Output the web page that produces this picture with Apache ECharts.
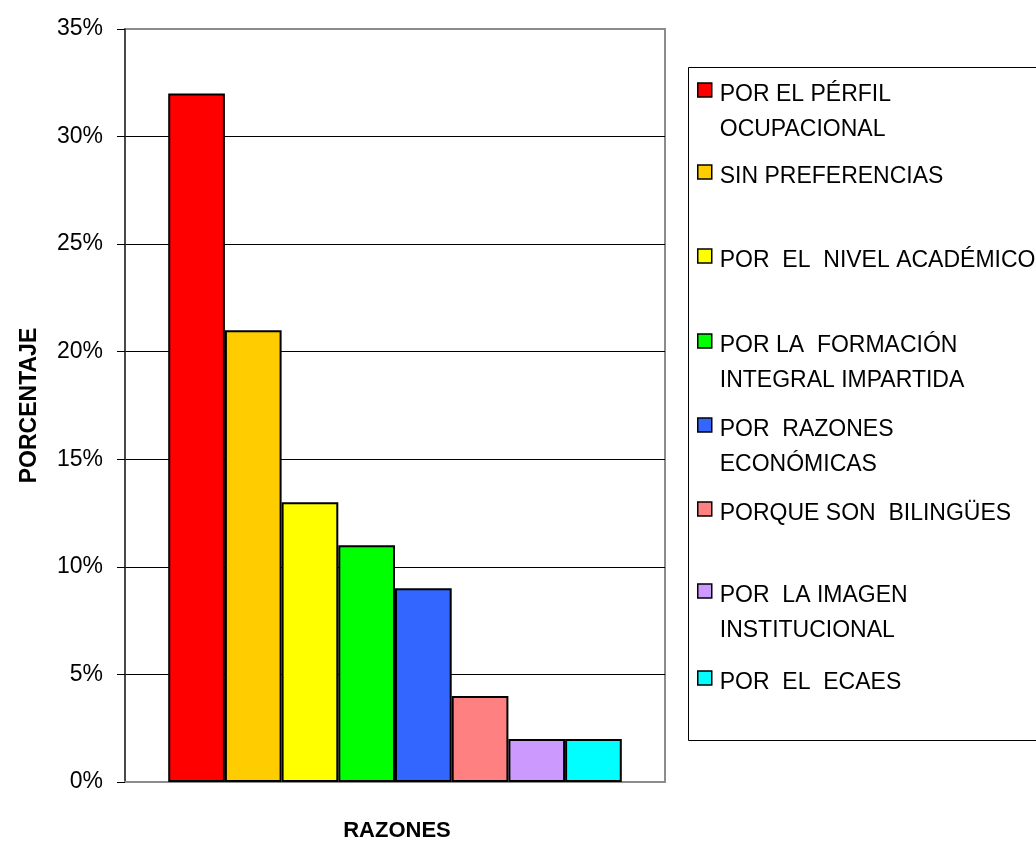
<!DOCTYPE html>
<html>
<head>
<meta charset="utf-8">
<script src="https://cdn.jsdelivr.net/npm/echarts@6/dist/echarts.min.js"></script>
<style>html,body{margin:0;padding:0;background:#fff}#c{width:1036px;height:844px}</style>
</head>
<body>
<div id="c"></div>
<script>
// ---- data ----
const categories = ['RAZONES'];
const seriesNames = [
  'POR EL PÉRFIL\nOCUPACIONAL',
  'SIN PREFERENCIAS',
  'POR  EL  NIVEL ACADÉMICO',
  'POR LA  FORMACIÓN\nINTEGRAL IMPARTIDA',
  'POR  RAZONES\nECONÓMICAS',
  'PORQUE SON  BILINGÜES',
  'POR  LA IMAGEN\nINSTITUCIONAL',
  'POR  EL  ECAES'
];
const seriesValues = [32, 21, 13, 11, 9, 4, 2, 2];
const seriesColors = ['#FF0000', '#FFCC00', '#FFFF00', '#00FF00', '#3366FF', '#FF8080', '#CC99FF', '#00FFFF'];
const yMin = 0, yMax = 35, yStep = 5;
const yTitle = 'PORCENTAJE';
const xTitle = 'RAZONES';

// ---- layout helpers (positions of legend entries) ----
const FONT = "'Liberation Sans', Arial, sans-serif";
const legendIconCenters = [90, 172, 256, 341, 425, 509, 591, 678];
const LH = 35;

const legends = seriesNames.map((name, i) => {
  const n = name.split('\n').length;
  const padTop = LH * n - 25;
  const H = padTop + LH * n;
  return {
    data: [name],
    orient: 'vertical',
    left: 697,
    top: legendIconCenters[i] - H / 2,
    padding: 0,
    itemWidth: 14,
    itemHeight: 14,
    icon: 'rect',
    selectedMode: false,
    itemStyle: { borderColor: '#000', borderWidth: 1.5 },
    formatter: nm => nm.split('\n').map(l => '{t|' + l + '}').join('\n'),
    textStyle: {
      fontSize: 23, fontFamily: FONT, color: '#000',
      lineHeight: LH, padding: [padTop, 0, 0, 3],
      rich: { t: { fontSize: 23, fontFamily: FONT, color: '#000', lineHeight: LH } }
    }
  };
});

const splitColors = [];
for (let v = yMin; v <= yMax; v += yStep) {
  splitColors.push(v === yMin || v === yMax ? '#8c8c8c' : '#000000');
}

const chart = echarts.init(document.getElementById('c'), null, { renderer: 'canvas' });
chart.setOption({
  animation: false,
  backgroundColor: '#ffffff',
  grid: {
    left: 125, right: 371, top: 29, bottom: 62,
    outerBoundsMode: 'none',
    containLabel: false,
    show: true, borderColor: '#8c8c8c', borderWidth: 2, backgroundColor: 'transparent'
  },
  legend: legends,
  graphic: [{
    type: 'rect',
    shape: { x: 688.5, y: 67.5, width: 400, height: 673 },
    style: { fill: 'none', stroke: '#000', lineWidth: 1 },
    z: -1
  }],
  xAxis: {
    type: 'category',
    data: categories,
    axisLabel: { show: false },
    axisTick: { show: false },
    axisLine: { show: true, lineStyle: { color: '#8c8c8c', width: 2 } },
    splitLine: { show: false },
    name: xTitle,
    nameLocation: 'middle',
    nameGap: 38,
    nameTextStyle: { fontSize: 22, fontWeight: 'bold', fontFamily: FONT, color: '#000', padding: [0, 0, 0, 4] }
  },
  yAxis: {
    type: 'value',
    min: yMin, max: yMax, interval: yStep,
    axisLabel: { formatter: '{value}%', fontSize: 23, fontFamily: FONT, color: '#000', margin: 22 },
    axisTick: { show: true, length: 8, lineStyle: { color: '#000', width: 1 } },
    axisLine: { show: true, lineStyle: { color: '#333', width: 1.5 } },
    splitLine: { show: true, lineStyle: { color: splitColors, width: 1 } },
    name: yTitle,
    nameLocation: 'middle',
    nameRotate: 90,
    nameGap: 84,
    nameTextStyle: { fontSize: 23, fontWeight: 'bold', fontFamily: FONT, color: '#000' }
  },
  series: seriesNames.map((name, i) => ({
    type: 'bar',
    name: name,
    data: [seriesValues[i]],
    barGap: '0%',
    barCategoryGap: '16%',
    itemStyle: { color: seriesColors[i], borderColor: '#000', borderWidth: 2 },
    emphasis: { disabled: true }
  }))
});
</script>
</body>
</html>
